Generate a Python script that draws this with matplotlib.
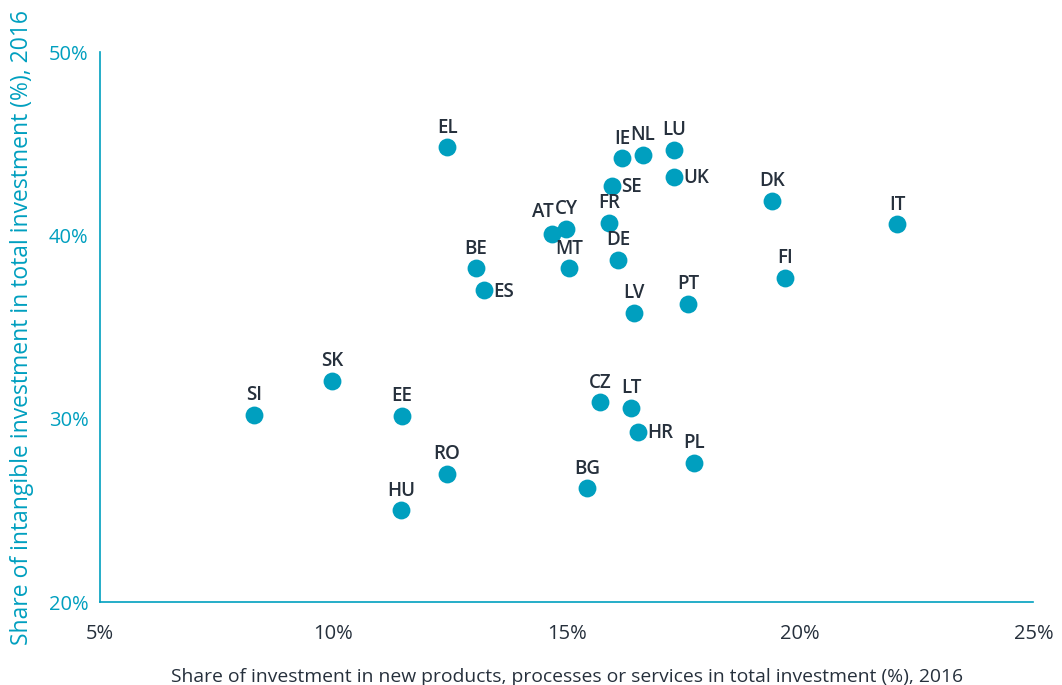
import numpy as np
import matplotlib.pyplot as plt
import matplotlib
from matplotlib.ticker import FuncFormatter

countries = ['EL', 'IE', 'NL', 'LU', 'SE', 'UK', 'DK', 'IT', 'AT', 'CY', 'FR', 'BE', 'MT', 'DE',
             'ES', 'FI', 'PT', 'LV', 'SK', 'SI', 'EE', 'CZ', 'LT', 'HR', 'PL', 'RO', 'BG', 'HU']
new_products = [12.44, 16.19, 16.64, 17.30, 15.97, 17.30, 19.40, 22.08, 14.69, 14.99, 15.91, 13.06, 15.05, 16.10,
                13.23, 19.68, 17.60, 16.45, 9.97, 8.30, 11.47, 15.72, 16.38, 16.53, 17.73, 12.44, 15.44, 11.45]
intangible = [44.8, 44.2, 44.4, 44.66, 42.7, 43.2, 41.9, 40.6, 40.1, 40.35, 40.7, 38.2, 38.2, 38.65,
              37.0, 37.7, 36.26, 35.77, 32.06, 30.2, 30.15, 30.9, 30.6, 29.3, 27.6, 27.0, 26.2, 25.0]
# labels drawn to the right of the point instead of above
right_labels = ['SE', 'UK', 'ES', 'HR']

teal = '#009fbf'
dark = '#26303c'
matplotlib.rc('font', family='Open Sans', size=14.5)

fig = plt.figure(figsize=(10.62, 6.85), dpi=100)
ax = fig.add_axes([0.094, 0.121, 0.879, 0.803])
ax.scatter(new_products, intangible, s=165, color=teal, zorder=3, linewidths=0)

for c, x, y in zip(countries, new_products, intangible):
    if c in right_labels:
        ax.annotate(c, (x, y), xytext=(7, -1), textcoords='offset points',
                    ha='left', va='center', color=dark, fontweight='semibold', fontsize=13.5)
    elif c == 'AT':
        ax.annotate(c, (x, y), xytext=(-7, 8), textcoords='offset points',
                    ha='center', va='bottom', color=dark, fontweight='semibold', fontsize=13.5)
    else:
        ax.annotate(c, (x, y), xytext=(0, 7), textcoords='offset points',
                    ha='center', va='bottom', color=dark, fontweight='semibold', fontsize=13.5)

ax.set_xlim(5, 25)
ax.set_ylim(20, 50)
ax.set_xticks([5, 10, 15, 20, 25])
ax.set_yticks([20, 30, 40, 50])
pct = FuncFormatter(lambda v, p: '%d%%' % v)
ax.xaxis.set_major_formatter(pct)
ax.yaxis.set_major_formatter(pct)
ax.tick_params(axis='both', length=0)
ax.tick_params(axis='x', colors=dark, pad=16)
ax.tick_params(axis='y', colors=teal, pad=8)
for s in ['top', 'right']:
    ax.spines[s].set_visible(False)
for s in ['left', 'bottom']:
    ax.spines[s].set_color(teal)
    ax.spines[s].set_linewidth(1.2)

ax.set_xlabel('Share of investment in new products, processes or services in total investment (%), 2016',
              color=dark, fontsize=13.9, labelpad=17)
ax.set_ylabel('Share of intangible investment in total investment (%), 2016',
              color=teal, fontsize=16.5, labelpad=11)

plt.savefig('out.png')
